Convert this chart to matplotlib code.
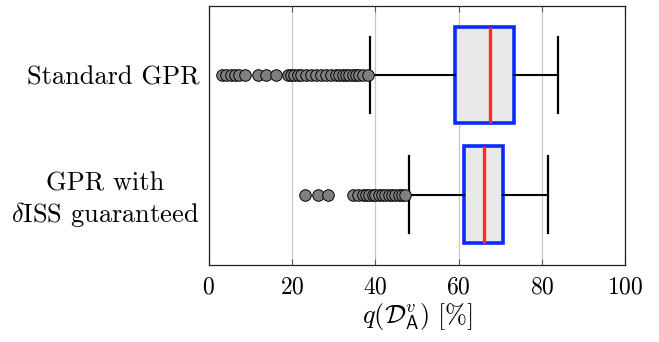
import matplotlib
matplotlib.use("Agg")
import matplotlib.pyplot as plt

plt.rcParams["font.family"] = "serif"
plt.rcParams["font.serif"] = ["cmr10"]
plt.rcParams["mathtext.fontset"] = "cm"
plt.rcParams["axes.formatter.use_mathtext"] = True

# box statistics (values in %)
labels = ["Standard GPR", "GPR with\n$\\delta$ISS guaranteed"]
whislo = [38.6, 48.0]
q1 = [59.2, 61.2]
med = [67.6, 66.0]
q3 = [73.3, 70.5]
whishi = [83.7, 81.5]
fliers_std = [3.1, 4.2, 5.3, 6.3, 7.3, 8.7, 11.9, 13.8, 16.1, 18.9, 19.7, 20.5,
              21.3, 22.1, 23.3, 24.5, 25.7, 26.9, 28.1, 29.3, 30.5, 31.3, 32.1,
              32.9, 33.7, 34.5, 35.3, 36.1, 36.9, 38.2]
fliers_iss = [23.0, 26.1, 28.5, 34.5, 35.7, 36.9, 37.7, 38.4, 39.3, 40.0, 40.8,
              41.6, 42.4, 43.2, 44.0, 44.8, 45.6, 46.4, 47.2]
fliers = [fliers_std, fliers_iss]

stats = []
for i in range(len(labels)):
    stats.append(dict(label=labels[i], whislo=whislo[i], q1=q1[i], med=med[i],
                      q3=q3[i], whishi=whishi[i], fliers=fliers[i]))

fig = plt.figure(figsize=(6.59, 3.42), dpi=100)
ax = fig.add_axes([0.317, 0.225, 0.632, 0.758])

ax.bxp(stats, positions=[2, 1], widths=0.81, vert=False, patch_artist=True,
       showfliers=True, capwidths=0.64,
       boxprops=dict(facecolor="#e9e9e9", edgecolor="#0a2aff", linewidth=2.6),
       medianprops=dict(color="#ff2e1f", linewidth=2.4),
       whiskerprops=dict(color="black", linewidth=1.5),
       capprops=dict(color="black", linewidth=1.6),
       flierprops=dict(marker="o", markerfacecolor="#7f7f7f", markeredgecolor="black",
                       markeredgewidth=0.7, markersize=8.3))

ax.set_xlim(0, 100)
ax.set_ylim(0.41, 2.58)
ax.set_xticks([0, 20, 40, 60, 80, 100])
ax.grid(True, axis="x", color="#c8c8c8", linewidth=0.9)
ax.set_axisbelow(True)
ax.tick_params(axis="x", direction="in", top=True, length=4, color="#606060",
               labelsize=17, pad=8)
ax.tick_params(axis="y", length=0, labelsize=19, pad=7)
for t in ax.get_yticklabels():
    t.set_multialignment("center")
for s in ax.spines.values():
    s.set_linewidth(0.9)
    s.set_color("#222222")

ax.set_xlabel(r"$q(\mathcal{D}^v_\mathsf{A})\ [\%]$", fontsize=19, labelpad=2)

fig.savefig("out.png", dpi=100)
